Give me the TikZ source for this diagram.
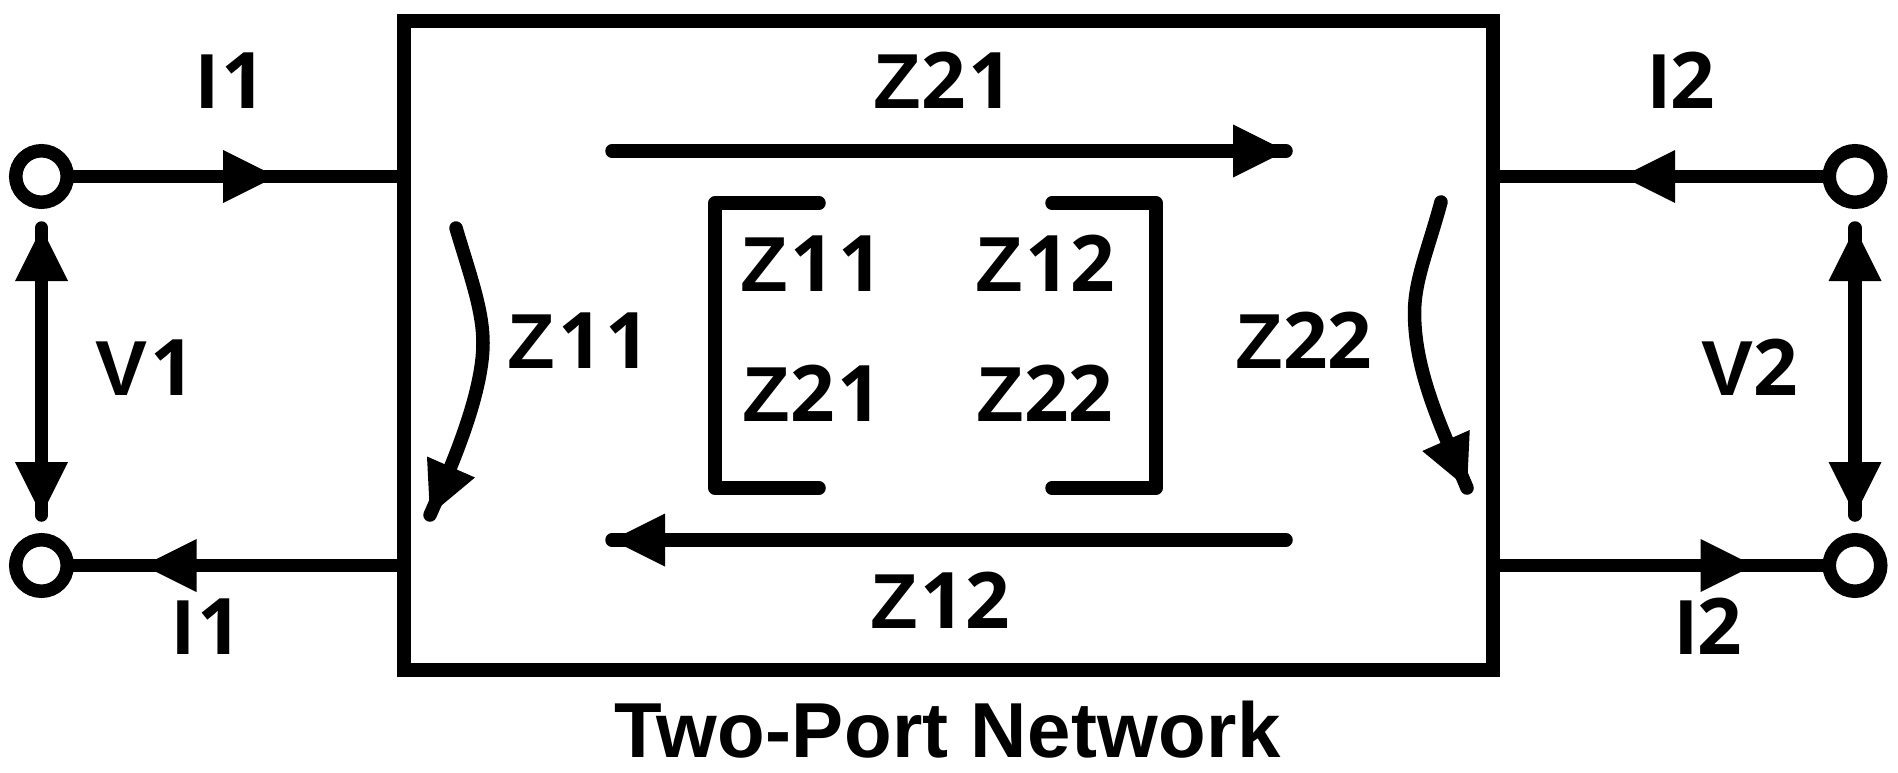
\documentclass[tikz,border=0pt]{standalone}
\usepackage{fontspec}
\setmainfont{Liberation Sans}
\newfontfamily\digfont{Open Sans}
\newcommand{\dg}[1]{{\digfont\bfseries #1}}
\newcommand{\one}{\kern3pt\dg{1}}
\usetikzlibrary{calc}
\tikzset{
  wire/.style={line width=13.5pt,line cap=butt},
  rwire/.style={line width=13.5pt,line cap=round,line join=round},
  port/.style={circle,draw,line width=13.5pt,minimum size=51.5pt,inner sep=0pt,outer sep=0pt},
  netbox/.style={draw,line width=13.5pt,minimum width=1089pt,minimum height=649pt,inner sep=0pt,outer sep=0pt},
  lab/.style={inner sep=0pt,anchor=base,font=\fontsize{78}{78}\selectfont\bfseries},
  hd/.style={fill=black,draw=none}
}
\newcommand{\hdr}[2]{% tip, base midpoint
  \fill[hd] let \p1=(#1),\p2=(#2),\n1={\x1-\x2},\n2={\y1-\y2} in
    ($(#2)+(-\n2/2,\n1/2)$) -- (#1) -- ($(#2)+(\n2/2,-\n1/2)$) -- cycle;}
\begin{document}
\begin{tikzpicture}[x=1pt,y=-1pt]
\useasboundingbox (0,0) rectangle (1898,773);
\node[netbox] (net) at (948.5,345.5) {};
\node[port] (p1) at (41.5,176.5) {};
\node[port] (p2) at (41.5,565.5) {};
\node[port] (p3) at (1855,176.5) {};
\node[port] (p4) at (1855,565.5) {};
% wires
\draw[wire] (p1) -- (p1 -| net.west);
\draw[wire] (p2) -- (p2 -| net.west);
\draw[wire] (p3) -- (p3 -| net.east);
\draw[wire] (p4) -- (p4 -| net.east);
\hdr{276,176.5}{223,176.5}
\hdr{143.5,565.5}{196.5,565.5}
\hdr{1622,176.5}{1675,176.5}
\hdr{1753.5,565.5}{1700.5,565.5}
% voltage
\coordinate (v1a) at (41.5,228);
\coordinate (v1b) at (41.5,515);
\coordinate (v2a) at (1855,228);
\coordinate (v2b) at (1855,515);
\draw[rwire] (v1a) -- (v1b);
\draw[rwire] (v2a) -- (v2b);
\hdr{v1a}{41.5,281}
\hdr{v1b}{41.5,462}
\hdr{v2a}{1855,281}
\hdr{v2b}{1855,462}
% Z21 Z12
\coordinate (ta) at (612,151);
\coordinate (tb) at (1286,151);
\coordinate (ba) at (612,540);
\coordinate (bb) at (1286,540);
\draw[rwire] (ta) -- (tb);
\draw[rwire] (bb) -- (ba);
\hdr{tb}{1233,151}
\hdr{ba}{665,540}
% curves
\coordinate (c1s) at (456,228);
\coordinate (c1m) at (483,343);
\coordinate (c1e) at (430,515);
\coordinate (c2s) at (1441,202);
\coordinate (c2m) at (1414.5,313);
\coordinate (c2e) at (1467,488);
\draw[rwire] (c1s) .. controls (470,275) and (483,310) .. (c1m) .. controls (483,395) and (450,470) .. (c1e);
\draw[rwire] (c2s) .. controls (1428,250) and (1414.5,280) .. (c2m) .. controls (1414.5,375) and (1445,435) .. (c2e);
\hdr{c1e}{451,467}
\hdr{c2e}{1446,440.5}
% brackets
\coordinate (l1) at (819,203);
\coordinate (l2) at (715,203);
\coordinate (l3) at (715,488);
\coordinate (l4) at (819,488);
\coordinate (r1) at (1052,203);
\coordinate (r2) at (1156,203);
\coordinate (r3) at (1156,488);
\coordinate (r4) at (1052,488);
\draw[rwire] (l1) -- (l2) -- (l3) -- (l4);
\draw[rwire] (r1) -- (r2) -- (r3) -- (r4);
% labels
\node[lab] (li1) at (231.5,109) {I\one};
\node[lab] (li2) at (207,654) {I\one};
\node[lab] (li3) at (1682,109) {I\dg{2}};
\node[lab] (li4) at (1709,654) {I\dg{2}};
\node[lab] (lv1) at (145,395) {V\one};
\node[lab] (lv2) at (1750,395) {V\dg{2}};
\node[lab] (z21t) at (943.5,109) {Z\dg{2}\one};
\node[lab] (z12b) at (940,628) {Z\one\dg{2}};
\node[lab] (z11l) at (579,368) {Z\one\one};
\node[lab] (z22r) at (1304,368) {Z\dg{22}};
\node[lab] (m11) at (811.5,291) {Z\one\one};
\node[lab] (m12) at (1045,291) {Z\one\dg{2}};
\node[lab] (m21) at (812.5,421) {Z\dg{2}\one};
\node[lab] (m22) at (1045,421) {Z\dg{22}};
\node[lab] (title) at (947.5,757.5) {\addfontfeature{LetterSpace=0.5}Two-Port Network};
\end{tikzpicture}
\end{document}
